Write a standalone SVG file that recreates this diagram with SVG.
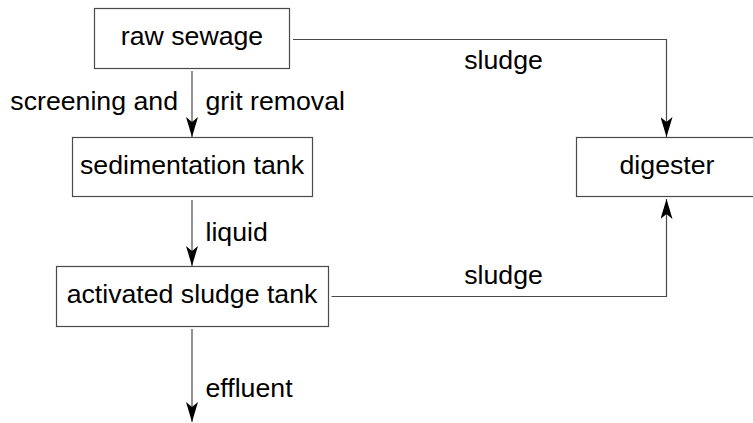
<svg xmlns="http://www.w3.org/2000/svg" width="753" height="423" viewBox="0 0 753 423">
<defs>
<style>
.box{fill:#fff;stroke:#4a4a4a;stroke-width:1.2}
.lbl{font-family:"Liberation Sans",Arial,sans-serif;font-size:26.7px;fill:#000}
.mid{text-anchor:middle}
.con{fill:none;stroke:#4a4a4a;stroke-width:1.2}
</style>
<marker id="ah" viewBox="0 0 20 12" refX="20" refY="6" markerWidth="20" markerHeight="12" markerUnits="userSpaceOnUse" orient="auto">
<path d="M0,0 L20,6 L0,12 L5,6 Z" fill="#000"/>
</marker>
</defs>
<rect width="753" height="423" fill="#fff"/>
<g id="connectors">
<path class="con" d="M192,71 V137" marker-end="url(#ah)"/>
<path class="con" d="M192,200 V266" marker-end="url(#ah)"/>
<path class="con" d="M192,329 V422" marker-end="url(#ah)"/>
<path class="con" d="M293,39.5 H666.5 V137" marker-end="url(#ah)"/>
<path class="con" d="M331.5,296.5 H666.5 V199" marker-end="url(#ah)"/>
<text class="lbl" x="178" y="110" text-anchor="end">screening and</text>
<text class="lbl" x="205.5" y="110">grit removal</text>
<text class="lbl" x="205.5" y="241">liquid</text>
<text class="lbl" x="205.5" y="397">effluent</text>
<text class="lbl" x="503.5" y="69" text-anchor="middle">sludge</text>
<text class="lbl" x="503.5" y="283.5" text-anchor="middle">sludge</text>
</g>
<g id="raw-sewage">
<rect class="box" x="94.5" y="8.5" width="195" height="60"/>
<text class="lbl mid" x="192" y="45">raw sewage</text>
</g>
<g id="sedimentation-tank">
<rect class="box" x="72.5" y="137.5" width="240" height="59"/>
<text class="lbl mid" x="192" y="173.5">sedimentation tank</text>
</g>
<g id="activated-sludge-tank">
<rect class="box" x="56.5" y="266.5" width="272" height="60"/>
<text class="lbl mid" x="192" y="303">activated sludge tank</text>
</g>
<g id="digester">
<rect class="box" x="576.5" y="137.5" width="182" height="59"/>
<text class="lbl mid" x="667" y="173.5">digester</text>
</g>
</svg>
